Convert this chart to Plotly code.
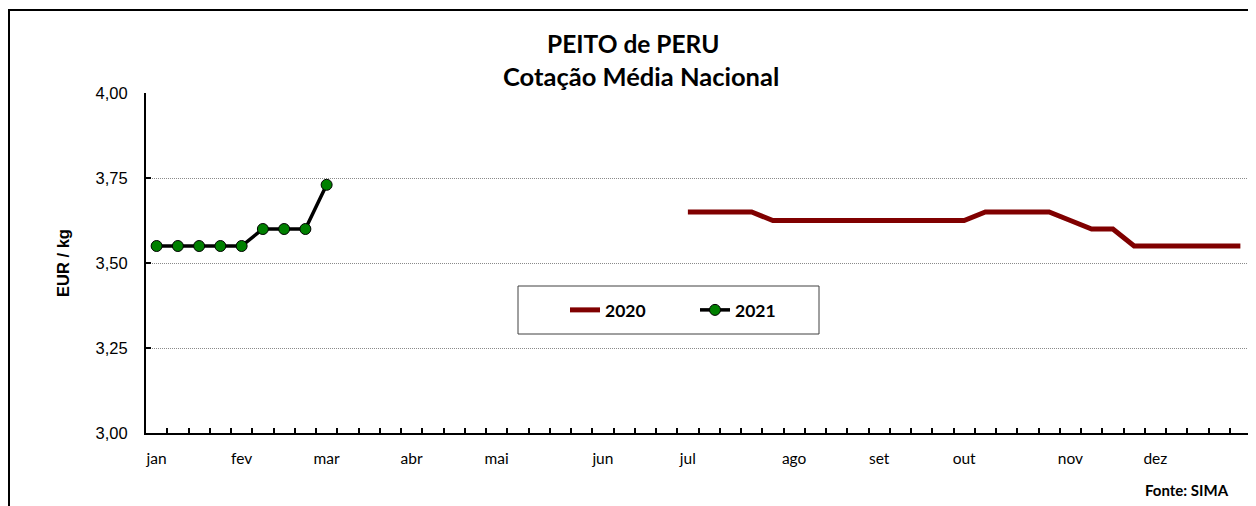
import plotly.graph_objects as go

# ---- data ----
weeks = list(range(1, 53))
month_labels = ["jan", "fev", "mar", "abr", "mai", "jun", "jul", "ago", "set", "out", "nov", "dez"]
month_weeks = [1, 5, 9, 13, 17, 22, 26, 31, 35, 39, 44, 48]

price_2020 = [None] * 25 + [
    3.65, 3.65, 3.65, 3.65,
    3.625, 3.625, 3.625, 3.625, 3.625, 3.625, 3.625, 3.625, 3.625, 3.625,
    3.65, 3.65, 3.65, 3.65,
    3.625, 3.60, 3.60,
    3.55, 3.55, 3.55, 3.55, 3.55, 3.55,
]
price_2021 = [3.55, 3.55, 3.55, 3.55, 3.55, 3.60, 3.60, 3.60, 3.73] + [None] * 43

y_ticks = [3.00, 3.25, 3.50, 3.75, 4.00]
y_tick_text = ["3,00", "3,25", "3,50", "3,75", "4,00"]

# page has an 8px body margin
OFF = 8
W, H = 1256, 506
L, R, T, B = 146, 1251, 93, 433


def px(x):
    return (x - L) / (R - L)


def py(y):
    return (B - y) / (B - T)


fig = go.Figure()
fig.add_trace(go.Scatter(
    x=weeks, y=price_2020, name="2020", mode="lines",
    line=dict(color="#800000", width=5), connectgaps=False,
))
fig.add_trace(go.Scatter(
    x=weeks, y=price_2021, name="2021", mode="lines+markers",
    line=dict(color="#000000", width=3.5),
    marker=dict(color="#008000", size=11, line=dict(color="#000000", width=1)),
))

fig.update_layout(
    width=W - OFF, height=H - OFF,
    margin=dict(l=L - OFF, r=W - R, t=T - OFF, b=H - B, pad=0),
    paper_bgcolor="white", plot_bgcolor="white",
    showlegend=True,
    legend=dict(
        orientation="h", x=px(565), y=py(310), xanchor="left", yanchor="middle",
        font=dict(family="Lato", size=17.5, color="black", weight="bold"),
        bgcolor="rgba(0,0,0,0)", entrywidth=85, entrywidthmode="pixels",
    ),
    xaxis=dict(
        range=[0.5, 52.5], tickmode="array", tickvals=month_weeks, ticktext=month_labels,
        ticks="", showgrid=False, zeroline=False,
        showline=True, linecolor="black", linewidth=2,
        tickfont=dict(family="Lato", size=15.5, color="black"),
        ticklabelstandoff=10,
        minor=dict(tickmode="array", tickvals=[k + 0.5 for k in range(1, 53)],
                   ticks="inside", ticklen=5, tickcolor="black", tickwidth=1.5, showgrid=False),
    ),
    yaxis=dict(
        range=[3.0, 4.0], tickmode="array", tickvals=y_ticks, ticktext=y_tick_text,
        ticks="inside", ticklen=5, tickcolor="black", tickwidth=1.5,
        showgrid=True, gridcolor="#8a8a8a", gridwidth=1, griddash="1px,1px",
        zeroline=False, showline=True, linecolor="black", linewidth=2,
        tickfont=dict(family="Liberation Sans", size=16.5, color="black"),
        ticklabelstandoff=13,
        title=dict(text="EUR / kg", standoff=22,
                   font=dict(family="Liberation Sans", size=16.5, color="black", weight="bold")),
    ),
    shapes=[
        dict(type="rect", xref="paper", yref="paper",
             x0=px(9), x1=px(1300), y0=py(560), y1=py(10),
             line=dict(color="black", width=2), fillcolor="rgba(0,0,0,0)", layer="below"),
        dict(type="rect", xref="paper", yref="paper",
             x0=px(518), x1=px(819), y0=py(334), y1=py(286),
             line=dict(color="#404040", width=1), fillcolor="white", layer="below"),
    ],
    annotations=[
        dict(text="<b>PEITO de PERU</b>", xref="paper", yref="paper", x=px(633), y=py(43),
             xanchor="center", yanchor="middle", showarrow=False,
             font=dict(family="Lato", size=24.5, color="black")),
        dict(text="<b>Cotação Média Nacional</b>", xref="paper", yref="paper", x=px(641), y=py(76),
             xanchor="center", yanchor="middle", showarrow=False,
             font=dict(family="Lato", size=25.5, color="black")),
        dict(text="<b>Fonte: SIMA</b>", xref="paper", yref="paper", x=px(1231), y=py(490),
             xanchor="right", yanchor="middle", showarrow=False,
             font=dict(family="Lato", size=15, color="black")),
    ],
)

fig.write_html("out.html")
